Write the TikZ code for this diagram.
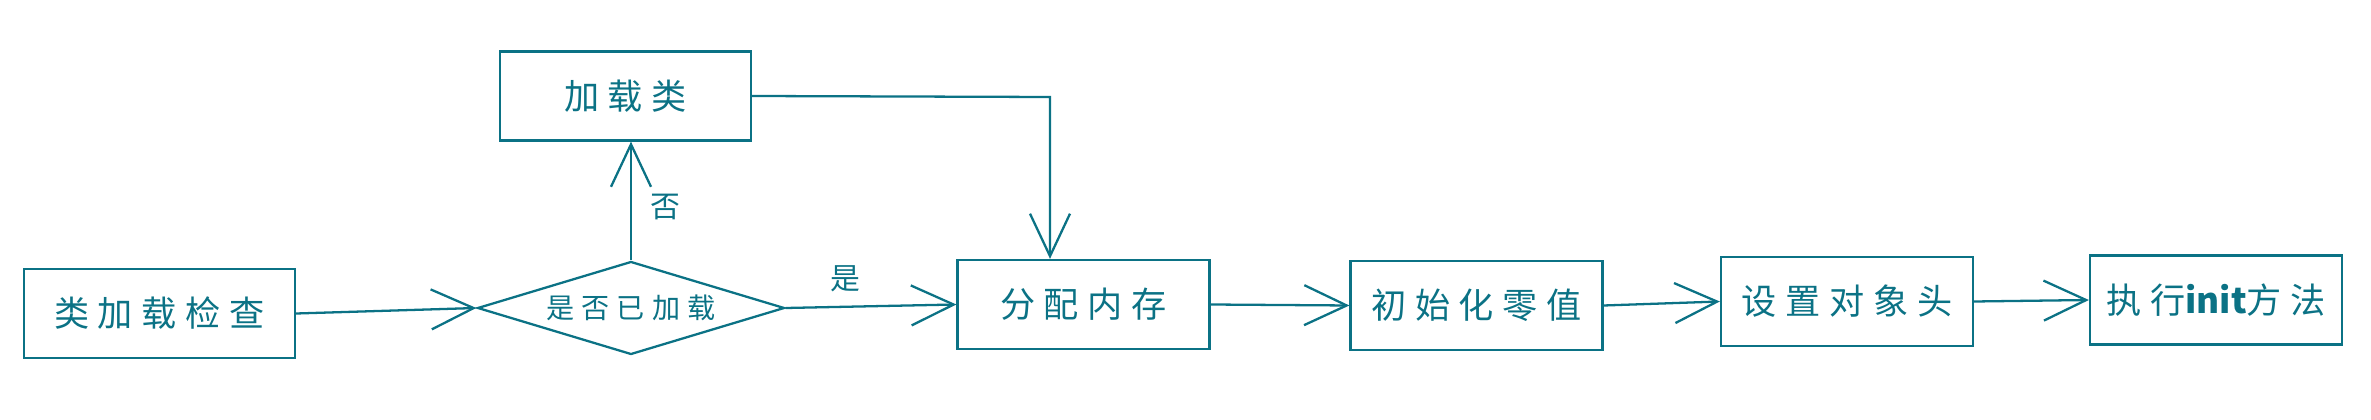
\documentclass[tikz,border=0pt]{standalone}
\usepackage{fontspec}
\usepackage{tikz}
\usetikzlibrary{arrows.meta, positioning, calc, shapes.geometric}
\usepackage{xcolor}
\newfontfamily\cjk[LetterSpace=25]{Noto Sans CJK SC}
\newfontfamily\cjktight{Noto Sans CJK SC}
\definecolor{sketch}{HTML}{0B7285}

\begin{document}
\begin{tikzpicture}[
  box/.style={draw=sketch, line width=1.3pt, minimum width=5.04cm, minimum height=1.78cm,
    inner sep=0pt, text=sketch, font=\cjk\fontsize{20}{22}\selectfont},
  decide/.style={diamond, aspect=3.3, draw=sketch, line width=1.3pt, minimum width=6.14cm, minimum height=1.86cm,
    inner sep=0pt, text=sketch, font=\cjk\fontsize{16}{18}\selectfont},
  flow/.style={draw=sketch, line width=1.3pt,
    -{Straight Barb[length=0.85cm, width=0.8cm, line width=1.3pt]}},
  lbl/.style={text=sketch, font=\cjk\fontsize{17}{19}\selectfont}
]
  \useasboundingbox (0,0) rectangle (47.42,8.4);
  % main line
  \node[box, minimum width=5.42cm] (check) at (3.19,2.13) {类加载检查};
  \node[decide] (loaded) at (12.62,2.24) {是否已加载};
  \node[box] (alloc) at (21.67,2.31) {分配内存};
  \node[box] (zero) at (29.53,2.29) {初始化零值};
  \node[box] (header) at (36.94,2.37) {设置对象头};
  \node[box] (init) at (44.32,2.4) {执行{\cjktight\bfseries init}方法};
  % branch
  \node[box, minimum width=5.02cm] (load) at (12.51,6.48) {加载类};
  \coordinate (bend) at (21.0,6.46);

  \draw[flow] (check.east) -- (loaded.west);
  \draw[flow] (loaded.north) -- (loaded.north |- load.south) node[pos=0.45, right=0.25cm, lbl] {否};
  \draw[flow] (loaded.east) -- (alloc.west) node[pos=0.35, above=0.15cm, lbl] {是};
  \draw[flow] (load.east) -- (bend) -- (bend |- alloc.north);
  \draw[flow] (alloc.east) -- (zero.west);
  \draw[flow] (zero.east) -- (header.west);
  \draw[flow] (header.east) -- (init.west);
\end{tikzpicture}
\end{document}
